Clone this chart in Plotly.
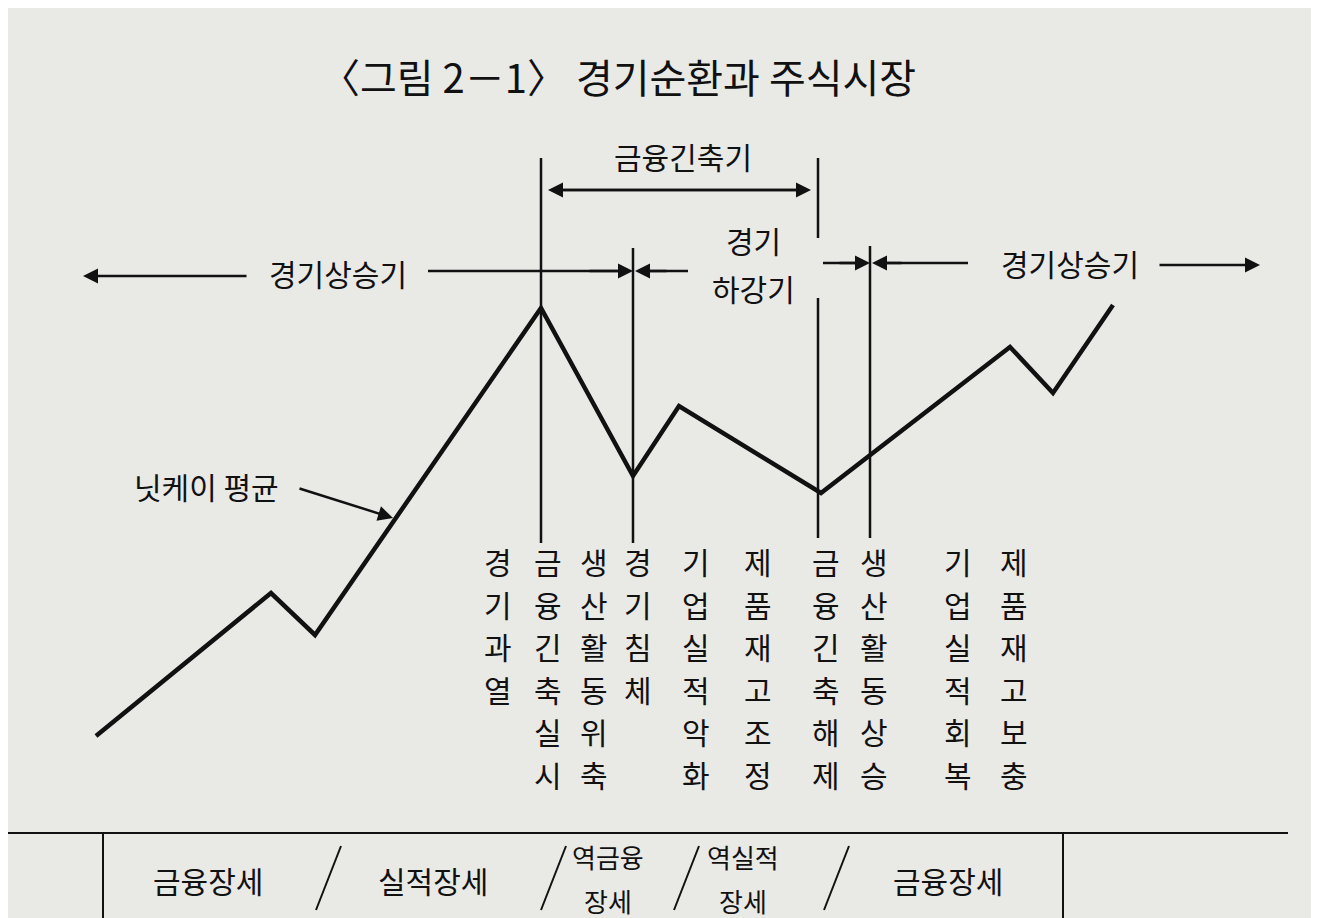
import plotly.graph_objects as go

# 닛케이 평균 polyline (diagram units, y down)
nikkei_x = [88, 263, 307, 533, 625, 671, 813, 1002, 1045, 1105]
nikkei_y = [728, 585, 627, 300, 468, 398, 485, 339, 385, 297]

# vertical event labels
event_labels = ["경기과열", "금융긴축실시", "생산활동위축", "경기침체", "기업실적악화",
                "제품재고조정", "금융긴축해제", "생산활동상승", "기업실적회복", "제품재고보충"]
event_x = [490, 540, 586, 630, 688, 750, 818, 866, 950, 1006]

# bottom phases (line 1, line 2)
phase_top = ["금융장세", "실적장세", "역금융", "역실적", "금융장세"]
phase_bottom = ["", "", "장세", "장세", ""]
phase_x = [200, 425, 600, 735, 940]

FONT = "Noto Sans CJK KR"
INK = "#111111"

fig = go.Figure()
fig.add_trace(go.Scatter(x=nikkei_x, y=nikkei_y, mode="lines",
                         line=dict(color=INK, width=4.5), hoverinfo="skip"))

shapes = []
def seg(x0, y0, x1, y1, w=2.5):
    shapes.append(dict(type="line", x0=x0, y0=y0, x1=x1, y1=y1,
                       line=dict(color=INK, width=w)))

# vertical markers
seg(533, 150, 533, 535)
seg(625, 240, 625, 535)
seg(810, 150, 810, 230)
seg(810, 290, 810, 530)
seg(862, 238, 862, 530)
# row lines
seg(420, 263, 610, 263)
seg(640, 263, 680, 263)
seg(815, 255, 850, 255)
seg(875, 255, 960, 255)
# bottom table
seg(0, 825, 1280, 825, 2)
seg(95, 825, 95, 918, 2)
seg(1055, 825, 1055, 918, 2)
for sx in [320, 545, 678, 828]:
    seg(sx + 13, 838, sx - 12, 902, 2)

ann = []
def arrow(x, y, ax, ay):
    ann.append(dict(x=x, y=y, ax=ax, ay=ay, xref="x", yref="y", axref="x", ayref="y",
                    showarrow=True, arrowhead=2, arrowsize=1.2, arrowwidth=2.5,
                    arrowcolor=INK, text=""))
arrow(540, 182, 800, 182)
arrow(803, 182, 545, 182)
arrow(75, 268, 240, 268)
arrow(625, 263, 580, 263)
arrow(627, 263, 660, 263)
arrow(862, 255, 830, 255)
arrow(864, 255, 895, 255)
arrow(1252, 257, 1150, 257)
arrow(385, 510, 290, 480)

def txt(x, y, s, size=30):
    ann.append(dict(x=x, y=y, text=s, showarrow=False, xref="x", yref="y",
                    font=dict(family=FONT, size=size, color=INK)))

txt(610, 68, "〈그림 2－1〉 경기순환과 주식시장", 40)
txt(675, 148, "금융긴축기")
txt(330, 265, "경기상승기")
txt(745, 232, "경기")
txt(745, 280, "하강기")
txt(1062, 255, "경기상승기")
txt(198, 478, "닛케이 평균")
for lab, ex in zip(event_labels, event_x):
    for i, ch in enumerate(lab):
        txt(ex, 553 + 42.5 * i, ch)
for t, b, px in zip(phase_top, phase_bottom, phase_x):
    if b:
        txt(px, 848, t, 26)
        txt(px, 892, b, 26)
    else:
        txt(px, 872, t)

fig.update_layout(
    width=1319, height=918, margin=dict(l=0, r=0, t=0, b=0),
    paper_bgcolor="#e9e9e6", plot_bgcolor="#e9e9e6", showlegend=False,
    xaxis=dict(range=[0, 1319], visible=False),
    yaxis=dict(range=[918, 0], visible=False),
    shapes=shapes, annotations=ann,
)
fig.write_html("out.html")
